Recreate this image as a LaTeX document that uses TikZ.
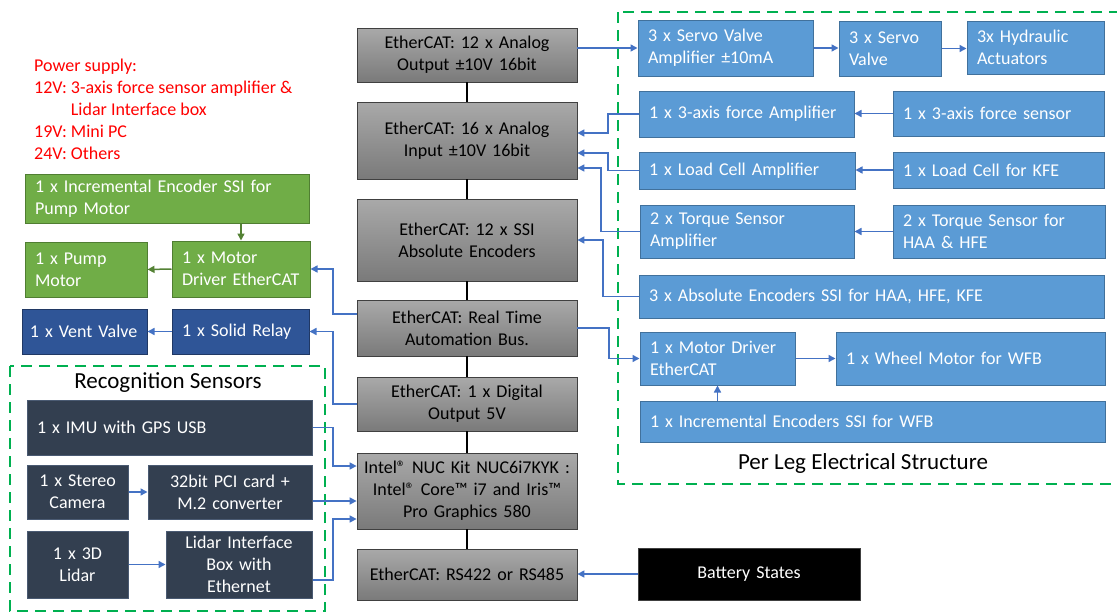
\documentclass[tikz,border=0pt]{standalone}
\usepackage{fontspec}
\setmainfont{Carlito}
\usetikzlibrary{arrows.meta}
\definecolor{graytop}{HTML}{A9A9A9}
\definecolor{graybot}{HTML}{7A7A7A}
\definecolor{grayedge}{HTML}{404040}
\definecolor{legblue}{HTML}{5B9BD5}
\definecolor{legedge}{HTML}{41719C}
\definecolor{pumpgreen}{HTML}{70AD47}
\definecolor{pumpedge}{HTML}{507E32}
\definecolor{darkgreen}{HTML}{548235}
\definecolor{relayblue}{HTML}{2F5597}
\definecolor{relayedge}{HTML}{203864}
\definecolor{sensnavy}{HTML}{333F50}
\definecolor{sensedge}{HTML}{4A5A72}
\definecolor{linkblue}{HTML}{4472C4}
\definecolor{dashgreen}{HTML}{00B050}

\begin{document}
\begin{tikzpicture}[x=1pt,y=-1pt,font=\fontsize{18}{22}\selectfont,
  gbox/.style={draw=grayedge,top color=graytop,bottom color=graybot,align=center,
    inner xsep=4pt,inner ysep=0pt,text width=212pt,line width=0.8pt},
  legbox/.style={draw=legedge,fill=legblue,text=white,align=left,inner xsep=10pt,
    inner ysep=0pt,line width=1pt},
  pumpbox/.style={legbox,draw=pumpedge,fill=pumpgreen},
  relaybox/.style={legbox,draw=relayedge,fill=relayblue},
  sensbox/.style={legbox,draw=sensedge,fill=sensnavy},
  midtext/.style={align=center,inner xsep=4pt},
  link/.style={draw=linkblue,line width=1.5pt,-{Triangle[length=7pt,width=7pt]}},
  pumplink/.style={link,draw=darkgreen},
  bus/.style={line width=1.8pt},
  fence/.style={draw=dashgreen,line width=2.5pt,dash pattern=on 11pt off 7pt},
  title/.style={font=\fontsize{23}{28}\selectfont}]
  \fill[white] (0,0) rectangle (1117,613);
  \useasboundingbox (0,0) rectangle (1117,613);

  % dashed groups
  \draw[fence] (618,12) rectangle (1135,484);
  \draw[fence] (10,366) rectangle (325,611);
  \node[title] (legtitle) at (863,463) {Per Leg Electrical Structure};
  \node[title] (rectitle) at (168,383) {Recognition Sensors};

  % power supply note
  \node[anchor=north west,align=left,text=red,inner sep=0pt] (power) at (34,59)
    {Power supply:\\12V: 3-axis force sensor amplifier \&\\\phantom{12V: }Lidar Interface box\\19V: Mini PC\\24V: Others};

  % central EtherCAT column
  \node[gbox,minimum height=54pt] (ao) at (467,55) {EtherCAT: 12 x Analog\\Output ±10V 16bit};
  \node[gbox,minimum height=77pt] (ai) at (467,140.5) {EtherCAT: 16 x Analog\\Input ±10V 16bit};
  \node[gbox,minimum height=82pt] (ssi) at (467,240) {EtherCAT: 12 x SSI\\Absolute Encoders};
  \node[gbox,minimum height=56pt] (rt) at (467,328) {EtherCAT: Real Time\\Automation Bus.};
  \node[gbox,minimum height=54pt] (dout) at (467,404) {EtherCAT: 1 x Digital\\Output 5V};
  \node[gbox,minimum height=76pt] (nuc) at (467,491) {Intel® NUC Kit NUC6i7KYK :\\Intel® Core™ i7 and Iris™\\Pro Graphics 580};
  \node[gbox,minimum height=51pt] (rs) at (467,574.5) {EtherCAT: RS422 or RS485};
  \foreach \a/\b in {ao/ai,ai/ssi,ssi/rt,rt/dout,dout/nuc,nuc/rs}
    \draw[bus] (\a.south) -- (\b.north);

  % per leg structure
  \node[legbox,text width=155pt,minimum height=56pt] (sva) at (725.5,48) {3 x Servo Valve\\Amplifier ±10mA};
  \node[legbox,text width=82pt,minimum height=55pt] (sv) at (890,48.5) {3 x Servo\\Valve};
  \node[legbox,text width=117pt,minimum height=53pt] (hyd) at (1035.5,47.5) {3x Hydraulic\\Actuators};
  \node[legbox,text width=195pt,minimum height=46pt] (famp) at (746.5,114) {1 x 3-axis force Amplifier};
  \node[legbox,text width=191pt,minimum height=45pt] (fsen) at (998.5,113.5) {1 x 3-axis force sensor};
  \node[legbox,text width=196pt,minimum height=37pt] (lamp) at (747,170.5) {1 x Load Cell Amplifier};
  \node[legbox,text width=191pt,minimum height=36pt] (lsen) at (998.5,170) {1 x Load Cell for KFE};
  \node[legbox,text width=194pt,minimum height=53pt] (tamp) at (747,231.5) {2 x Torque Sensor\\Amplifier};
  \node[legbox,text width=192pt,minimum height=53pt] (tsen) at (999,231.5) {2 x Torque Sensor for\\HAA \& HFE};
  \node[legbox,text width=445pt,minimum height=43pt] (abs) at (871.5,296.5) {3 x Absolute Encoders SSI for HAA, HFE, KFE};
  \node[legbox,text width=135pt,minimum height=53pt] (mdrv) at (717.5,358.5) {1 x Motor Driver\\EtherCAT};
  \node[legbox,text width=249pt,minimum height=53pt] (whl) at (970.5,358.5) {1 x Wheel Motor for WFB};
  \node[legbox,text width=445pt,minimum height=41pt] (ienc) at (872.5,421.5) {1 x Incremental Encoders SSI for WFB};
  \node[legbox,fill=black,draw=grayedge,midtext,text width=214pt,minimum height=52pt] (bat) at (749,574) {Battery States};

  % pump and valve
  \node[pumpbox,text width=264pt,minimum height=49pt] (penc) at (167,198.5) {1 x Incremental Encoder SSI for\\Pump Motor};
  \node[pumpbox,text width=102pt,minimum height=55pt] (pump) at (86,269.5) {1 x Pump\\Motor};
  \node[pumpbox,text width=118pt,minimum height=56pt] (pdrv) at (241,269) {1 x Motor\\Driver EtherCAT};
  \node[relaybox,inner xsep=8pt,text width=109pt,minimum height=45pt] (vent) at (84.5,331.5) {\mbox{1 x Vent Valve}};
  \node[relaybox,text width=117pt,minimum height=45pt] (relay) at (240.5,331.5) {\mbox{1 x Solid Relay}};

  % recognition sensors
  \node[sensbox,text width=265pt,minimum height=55pt] (imu) at (169.5,427.5) {1 x IMU with GPS USB};
  \node[sensbox,midtext,text width=93pt,minimum height=54pt] (cam) at (77.5,492) {1 x Stereo\\Camera};
  \node[sensbox,midtext,text width=156pt,minimum height=54pt] (pci) at (230,492) {32bit PCI card +\\M.2 converter};
  \node[sensbox,midtext,text width=93pt,minimum height=67pt] (lidar) at (77.5,564.5) {1 x 3D\\Lidar};
  \node[sensbox,midtext,text width=138pt,minimum height=67pt] (lif) at (239,564.5) {Lidar Interface\\Box with\\Ethernet};

  % connections
  \draw[link] (sva.west -| ao.east) -- (sva.west);
  \draw[link] (sva.east) -- (sv.west |- sva.east);
  \draw[link] (sv.east) -- (hyd.west |- sv.east);
  \draw[link] (fsen.west) -- (famp.east |- fsen.west);
  \draw[link] (lsen.west) -- (lamp.east |- lsen.west);
  \draw[link] (tsen.west) -- (tamp.east |- tsen.west);
  \draw[link] (famp.west) -| (608,133) -- ([yshift=7.5pt]ai.east);
  \draw[link] (lamp.west) -| (608,153) -- ([yshift=-12.5pt]ai.east);
  \draw[link] (tamp.west) -| (601,168) -- ([yshift=-27.5pt]ai.east);
  \draw[link] (abs.west) -| (603,240) -- (ssi.east);
  \draw[link] (rt.east) -| (609,358.5) -- (mdrv.west);
  \draw[link] (mdrv.east) -- (whl.west);
  \draw[link] (ienc.north -| mdrv.south) -- (mdrv.south);
  \draw[link] (bat.west) -- (rs.east |- bat.west);
  \draw[link] ([yshift=14pt]rt.west) -| (333,269) -- (pdrv.east);
  \draw[link] (dout.west) -| (333,331.5) -- (relay.east);
  \draw[link] (relay.west) -- (vent.east);
  \draw[pumplink] (penc.south -| pdrv.north) -- (pdrv.north);
  \draw[pumplink] (pdrv.west) -- (pump.east);
  \draw[link] (imu.east) -| (333,466) -- ([yshift=25pt]nuc.west);
  \draw[link] ([yshift=-10pt]nuc.west -| pci.east) -- ([yshift=-10pt]nuc.west);
  \draw[link] ([yshift=-15.5pt]lif.east) -| (333,519) -- ([yshift=-28pt]nuc.west);
  \draw[link] (cam.east) -- (pci.west);
  \draw[link] (lidar.east) -- (lif.west);
\end{tikzpicture}
\end{document}
